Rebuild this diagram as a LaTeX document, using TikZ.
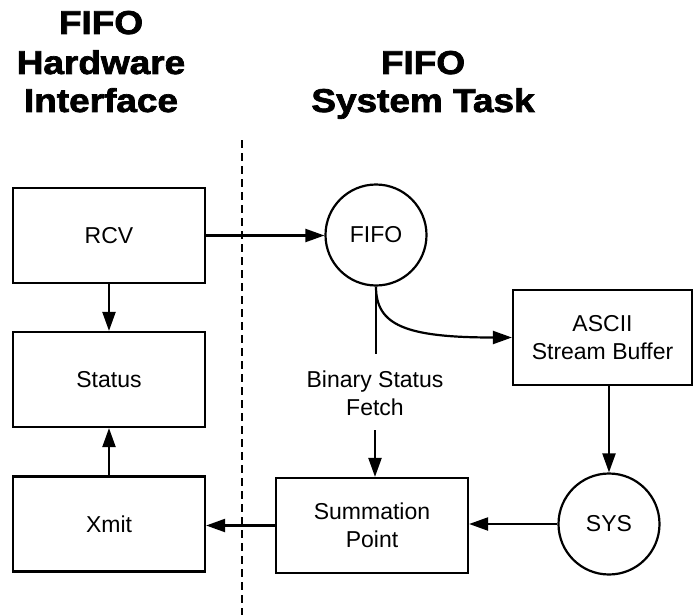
\documentclass[tikz,border=0pt]{standalone}
\usepackage{graphicx}
\usepackage{fontspec}
\setmainfont{Liberation Sans}
\newfontfamily\titlefont{Liberation Sans}[BoldFeatures={FakeBold=2}]
\usetikzlibrary{arrows.meta}
\begin{document}
\begin{tikzpicture}[x=1pt,y=-1pt,
  txt/.style={font=\fontsize{23}{28}\selectfont},
  box/.style={txt,draw,line width=2.2pt,minimum width=192pt,minimum height=95pt,inner sep=0pt,align=center},
  circ/.style={txt,draw,circle,line width=2.2pt,minimum size=101pt,inner sep=0pt},
  conn/.style={line width=2.2pt,-{Triangle[length=19pt,width=13pt]}},
  plain/.style={line width=2.2pt},
  title/.style={font=\titlefont\bfseries\fontsize{33}{40}\selectfont,anchor=base}]
\useasboundingbox[fill=white] (0,0) rectangle (695,615);

% titles
\node[title] (t1) at (101,34) {\scalebox{1.12}[1]{FIFO}};
\node[title] (t2) at (101,74) {\scalebox{1.12}[1]{Hardware}};
\node[title] (t3) at (101,112) {\scalebox{1.12}[1]{Interface}};
\node[title] (t4) at (423,74) {\scalebox{1.12}[1]{FIFO}};
\node[title] (t5) at (423,112) {\scalebox{1.12}[1]{System Task}};

% divider
\coordinate (d1) at (242,140);
\coordinate (d2) at (242,615);
\draw[line width=1.8pt,dash pattern=on 8pt off 5pt] (d1) -- (d2);

% nodes
\node[box] (rcv) at (109,235.5) {RCV};
\node[box] (status) at (109,379.5) {Status};
\node[box] (xmit) at (109,524) {Xmit};
\node[circ] (fifo) at (376,235) {FIFO};
\node[box,minimum width=179pt,minimum height=95pt] (ascii) at (602.5,337.5) {ASCII\\Stream Buffer};
\node[circ] (sys) at (609,524) {SYS};
\node[box] (sum) at (372,525.5) {Summation\\Point};
\node[txt,align=center] (bsf) at (375,393) {Binary Status\\Fetch};

% connectors
\coordinate (b1) at (376,354);
\coordinate (b2) at (375,430);
\draw[conn] (rcv.east) -- (rcv.east -| fifo.west);
\draw[conn] (rcv.south) -- (status.north);
\draw[conn] (xmit.north) -- (status.south);
\draw[plain] (fifo.south) -- (b1);
\draw[conn] (fifo.south) .. controls (376,325) and (405,337.5) .. (ascii.west);
\draw[conn] (b2) -- (b2 |- sum.north);
\draw[conn] (ascii.south -| sys.north) -- (sys.north);
\draw[conn] (sys.west) -- (sys.west -| sum.east);
\draw[conn] (sum.west) -- (sum.west -| xmit.east);
\end{tikzpicture}
\end{document}
